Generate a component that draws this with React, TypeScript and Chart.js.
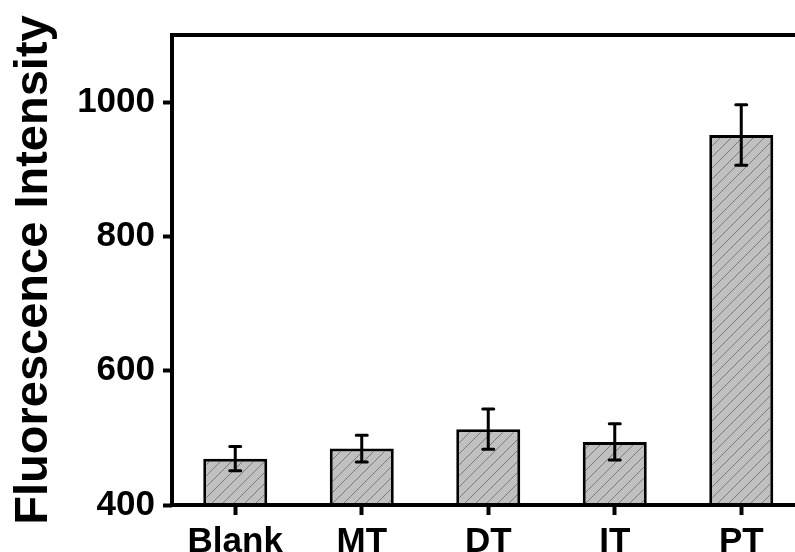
import React, { useEffect, useRef } from "react";
import { Chart, registerables } from "chart.js";

Chart.register(...registerables);

const categories = ["Blank", "MT", "DT", "IT", "PT"];
const intensity = [469, 484, 513, 494, 951];
const errors = [18, 20, 30, 27, 45];
const yTickValues = [400, 600, 800, 1000];
const yMin = 400;
const yMax = 1100;

const FONT = "'Liberation Sans', Arial, Helvetica, sans-serif";

function makeHatch(): CanvasPattern | string {
  const s = 11;
  const c = document.createElement("canvas");
  c.width = s;
  c.height = s;
  const g = c.getContext("2d");
  if (!g) return "#c0c0c0";
  g.fillStyle = "#c0c0c0";
  g.fillRect(0, 0, s, s);
  g.strokeStyle = "#7c7c7c";
  g.lineWidth = 1;
  g.beginPath();
  g.moveTo(-1, s + 1);
  g.lineTo(s + 1, -1);
  g.moveTo(-2, 2);
  g.lineTo(2, -2);
  g.moveTo(s - 2, s + 2);
  g.lineTo(s + 2, s - 2);
  g.stroke();
  const p = g.createPattern(c, "repeat");
  return p || "#c0c0c0";
}

const errorBarPlugin = {
  id: "errorBars",
  afterDatasetsDraw(chart: any) {
    const { ctx } = chart;
    const yScale = chart.scales.y;
    const meta = chart.getDatasetMeta(0);
    ctx.save();
    ctx.strokeStyle = "#000";
    ctx.lineWidth = 3;
    ctx.lineCap = "round";
    meta.data.forEach((bar: any, i: number) => {
      const x = bar.x;
      const top = yScale.getPixelForValue(intensity[i] + errors[i]);
      const bot = yScale.getPixelForValue(intensity[i] - errors[i]);
      const cap = 5.5;
      ctx.beginPath();
      ctx.moveTo(x, top);
      ctx.lineTo(x, bot);
      ctx.moveTo(x - cap, top);
      ctx.lineTo(x + cap, top);
      ctx.moveTo(x - cap, bot);
      ctx.lineTo(x + cap, bot);
      ctx.stroke();
    });
    ctx.restore();
  },
};

const framePlugin = {
  id: "frame",
  afterDraw(chart: any) {
    const { ctx, chartArea: a } = chart;
    ctx.save();
    ctx.strokeStyle = "#000";
    ctx.lineWidth = 4;
    ctx.strokeRect(a.left, a.top, a.right - a.left, a.bottom - a.top);
    ctx.restore();
  },
};

export default function App() {
  const ref = useRef<HTMLCanvasElement | null>(null);

  useEffect(() => {
    if (!ref.current) return;
    const chart = new Chart(ref.current, {
      type: "bar",
      data: {
        labels: categories,
        datasets: [
          {
            label: "Fluorescence Intensity",
            data: intensity,
            backgroundColor: makeHatch() as any,
            borderColor: "#000",
            borderWidth: 3,
            categoryPercentage: 1,
            barPercentage: 0.506,
          },
        ],
      },
      options: {
        animation: false,
        responsive: false,
        devicePixelRatio: 1,
        layout: { padding: { top: 35, right: 5.5, left: 0, bottom: 0 } },
        plugins: {
          legend: { display: false },
          tooltip: { enabled: false },
        },
        scales: {
          x: {
            grid: {
              offset: false,
              drawOnChartArea: false,
              drawTicks: true,
              tickLength: 10,
              tickWidth: 4,
              tickColor: "#000",
            },
            border: { display: false },
            ticks: {
              color: "#000",
              padding: 6,
              font: { family: FONT, size: 35, weight: "bold" },
              maxRotation: 0,
            },
            afterFit(scale: any) {
              scale.height = 47;
            },
          },
          y: {
            min: yMin,
            max: yMax,
            grid: {
              drawOnChartArea: false,
              drawTicks: true,
              tickLength: 9,
              tickWidth: 4,
              tickColor: "#000",
            },
            border: { display: false },
            afterBuildTicks(scale: any) {
              scale.ticks = yTickValues.map((v) => ({ value: v }));
            },
            ticks: {
              color: "#000",
              padding: 8,
              font: { family: FONT, size: 35, weight: "bold" },
              callback: (v: any) => String(v),
            },
            title: {
              display: true,
              text: "Fluorescence Intensity",
              color: "#000",
              padding: { top: 6, bottom: 0 },
              font: { family: FONT, size: 47, weight: "bold" },
            },
            afterFit(scale: any) {
              scale.width = 172;
            },
          },
        },
      },
      plugins: [errorBarPlugin, framePlugin],
    });
    return () => chart.destroy();
  }, []);

  return (
    <div
      style={{
        position: "fixed",
        left: 0,
        top: 0,
        width: 795,
        height: 552,
        overflow: "hidden",
        background: "#fff",
      }}
    >
      <canvas ref={ref} width={810} height={552} style={{ display: "block" }} />
    </div>
  );
}
